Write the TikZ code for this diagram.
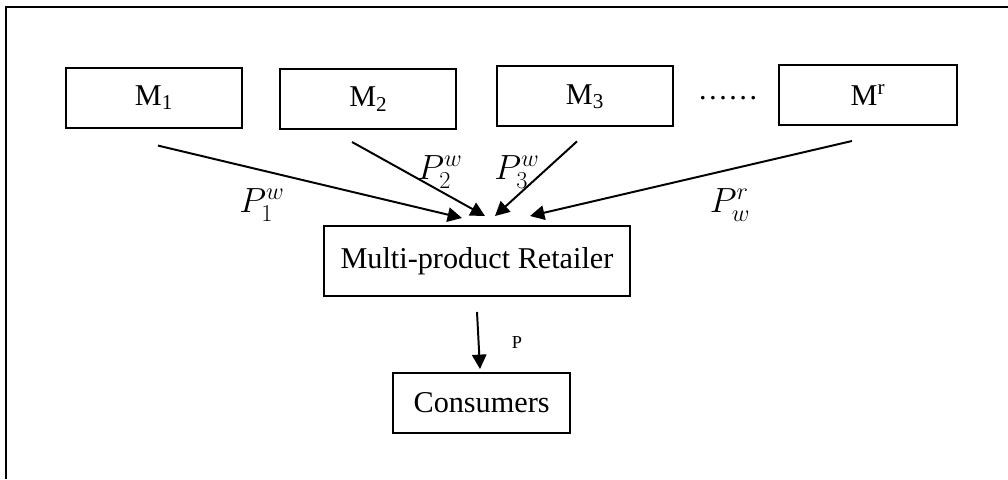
\documentclass[tikz,border=0pt]{standalone}
\usepackage{fontspec}
\setmainfont{Liberation Serif}
\usepackage{tikz}
\usetikzlibrary{
    arrows.meta,
    shapes
}
\newcommand{\boxfont}{\fontsize{21.5}{26}\selectfont}
\newcommand{\pricefont}{\fontsize{26}{30}\selectfont}

\begin{document}
\begin{tikzpicture}[
        box/.style={draw, rectangle, line width=1.4pt, minimum width=4.4cm, minimum height=1.5cm, font=\boxfont},
        flow/.style={line width=1.4pt, -{Triangle[length=0.36cm, width=0.36cm]}},
        price/.style={font=\pricefont, inner sep=1pt}
    ]
            \useasboundingbox (0,0) rectangle (25.2,-11.975);
            \draw[line width=1pt] (0.15,-11.975) -- (0.15,-0.175) -- (25.2,-0.175);

            \node[box] (m1) at (3.85,  -2.44)  {M\textsubscript{1}};
            \node[box] (m2) at (9.21,  -2.475) {M\textsubscript{2}};
            \node[box] (m3) at (14.625,-2.41)  {M\textsubscript{3}};
            \node[font=\boxfont] (dots) at (18.2, -2.45) {……};
            \node[box, minimum width=4.45cm] (mr) at (21.7, -2.375) {M\textsuperscript{r}};

            \node[box, minimum width=7.65cm, minimum height=1.75cm] (retailer) at (11.925,-6.525) {Multi-product Retailer};
            \node[box, minimum width=4.425cm] (consumers) at (12.04,-10.075) {Consumers};

            \draw[flow] ([shift={(0.1,-0.425)}]m1.south)  -- ([shift={(-0.375,0.175)}]retailer.north);
            \draw[flow] ([shift={(-0.41,-0.3)}]m2.south)  -- ([shift={(0.2,0.225)}]retailer.north);
            \draw[flow] ([shift={(-0.2,-0.35)}]m3.south)  -- ([shift={(0.45,0.225)}]retailer.north);
            \draw[flow] ([shift={(-0.4,-0.375)}]mr.south) -- ([shift={(1.325,0.225)}]retailer.north);

            \draw[flow] ([shift={(0,-0.375)}]retailer.south) -- ([shift={(-0.04,0.075)}]consumers.north);

            \node[price] (p1) at (6.55,  -5.125) {$P_1^w$};
            \node[price] (p2) at (11.0,  -4.3)   {$P_2^w$};
            \node[price] (p3) at (12.925,-4.3)   {$P_3^w$};
            \node[price] (pr) at (18.25, -5.125) {$P_w^r$};
            \node[font=\fontsize{13}{15}\selectfont] (p) at (12.925,-8.575) {P};
\end{tikzpicture}
\end{document}
